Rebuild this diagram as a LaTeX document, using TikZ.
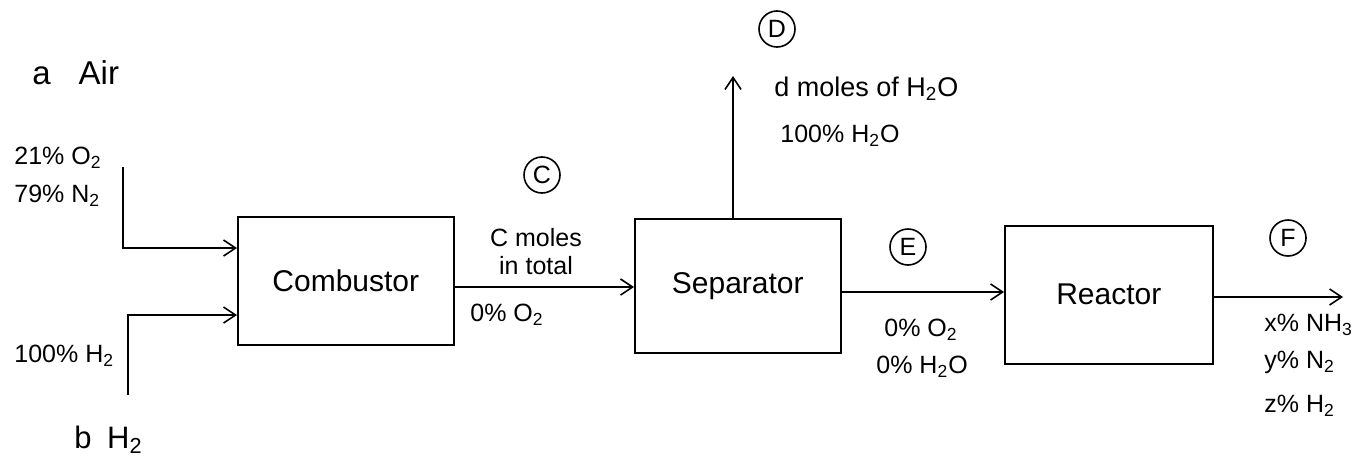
\documentclass[tikz,border=0pt]{standalone}
\usepackage{fontspec}
\setmainfont{Liberation Sans}
\usetikzlibrary{arrows.meta}
\begin{document}
\begin{tikzpicture}[x=0.5pt,y=-0.5pt,
  unit/.style={draw,line width=0.8pt,anchor=north west,inner sep=0pt},
  flow/.style={line width=0.8pt,-{Straight Barb[length=6pt,width=8pt,line width=0.8pt]}},
  tag/.style={draw,circle,line width=0.8pt,minimum size=18pt,inner sep=0pt,font=\fontsize{12.5}{14}\selectfont},
  big/.style={font=\fontsize{15}{17}\selectfont},
  lbl/.style={font=\fontsize{12.5}{14}\selectfont,inner sep=1pt},
  lft/.style={lbl,anchor=west}]
\useasboundingbox (0,0) rectangle (1369,466);

% process units
\node[unit,minimum width=108pt,minimum height=64pt] (comb) at (237,216) {};
\node[big] at (comb.center) {Combustor};
\node[unit,minimum width=103pt,minimum height=67pt] (sep) at (634,218) {};
\node[big] at (sep.center) {Separator};
\node[unit,minimum width=104pt,minimum height=69pt] (reac) at (1004,225) {};
\node[big] at (reac.center) {Reactor};

% feed streams
\coordinate (airtop) at (123,167);
\coordinate (aircorner) at (123,248);
\coordinate (airin) at (237,248);
\draw[flow] (airtop) -- (aircorner) -- (airin);
\coordinate (htop) at (128,395);
\coordinate (hcorner) at (128,315);
\coordinate (hin) at (237,315);
\draw[flow] (htop) -- (hcorner) -- (hin);

\node[lft,font=\fontsize{16.5}{18}\selectfont] (a) at (30,73) {a\hspace{14pt}Air};
\node[lft] (o2a) at (12,158) {21\% O\textsubscript{2}};
\node[lft] (n2a) at (12,196) {79\% N\textsubscript{2}};
\node[lft] (h2a) at (12,356) {100\% H\textsubscript{2}};
\node[lft,font=\fontsize{15.5}{17}\selectfont] (b) at (72,440) {b\enspace H\textsubscript{2}};

% stream C
\coordinate (cout) at (453,287);
\coordinate (cin) at (634,287);
\draw[flow] (cout) -- (cin);
\node[tag] (tc) at (542,175) {C};
\node[lbl,align=center] (cl) at (536,252) {C moles\\in total};
\node[lft] (co2) at (468,315) {0\% O\textsubscript{2}};

% stream D
\coordinate (dout) at (733,218);
\coordinate (dend) at (733,76);
\draw[flow] (dout) -- (dend);
\node[tag] (td) at (777,29) {D};
\node[lft,font=\fontsize{13.5}{15}\selectfont] (dl) at (772,89) {d moles of H\textsubscript{2}O};
\node[lft] (dh) at (778,136) {100\% H\textsubscript{2}O};

% stream E
\coordinate (eout) at (840,292);
\coordinate (ein) at (1004,292);
\draw[flow] (eout) -- (ein);
\node[tag] (te) at (908,247) {E};
\node[lft] (eo2) at (882,330) {0\% O\textsubscript{2}};
\node[lft] (eh) at (874,367) {0\% H\textsubscript{2}O};

% stream F
\coordinate (fout) at (1212,297);
\coordinate (fend) at (1343,297);
\draw[flow] (fout) -- (fend);
\node[tag] (tf) at (1288,238) {F};
\node[lft] (fx) at (1262,325) {x\% NH\textsubscript{3}};
\node[lft] (fy) at (1262,362) {y\% N\textsubscript{2}};
\node[lft] (fz) at (1262,406) {z\% H\textsubscript{2}};
\end{tikzpicture}
\end{document}
